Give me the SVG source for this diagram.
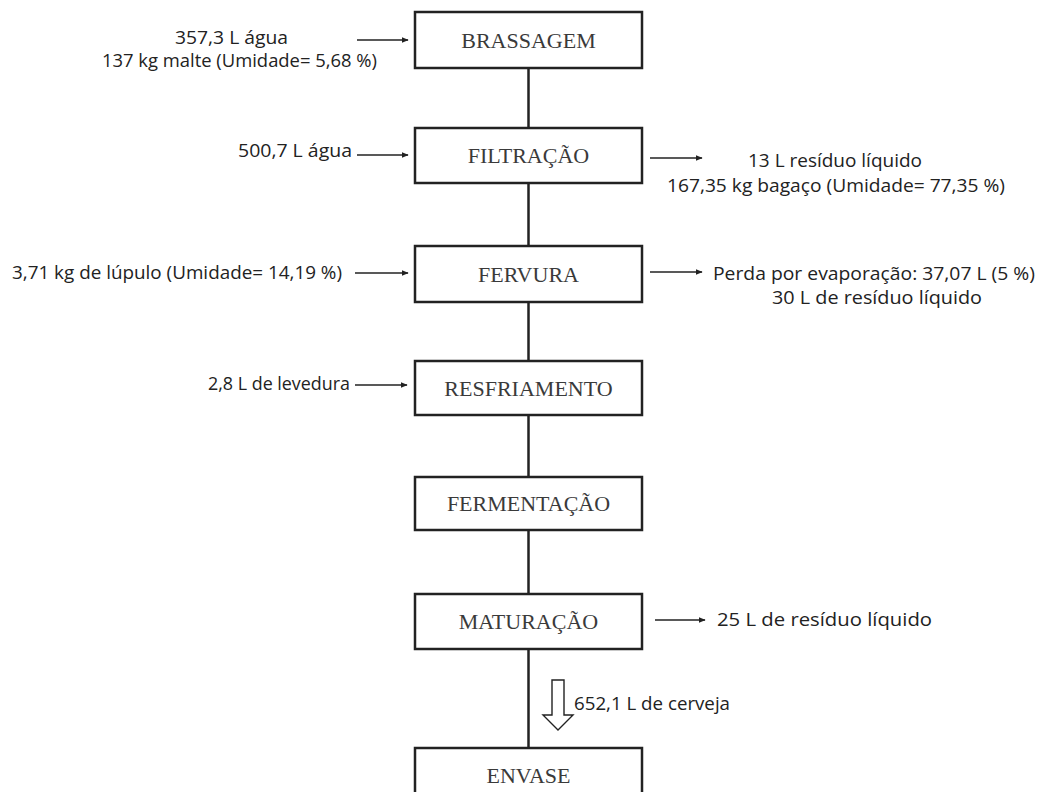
<svg xmlns="http://www.w3.org/2000/svg" width="1043" height="792" viewBox="0 0 1043 792">
<style>
.box{fill:#fff;stroke:#222;stroke-width:2.5}
.lbl{font-family:"Liberation Serif",serif;font-size:22px;fill:#3a3a3a;text-anchor:middle}
.t{font-family:"Open Sans","Noto Sans",sans-serif;font-size:17.5px;fill:#222}
.flow{stroke:#222;stroke-width:2.5;fill:none}
.ar{stroke:#222;stroke-width:1.4;fill:none;marker-end:url(#ah)}
</style>
<defs>
<marker id="ah" viewBox="0 0 10 10" refX="9" refY="5" markerWidth="7" markerHeight="7" markerUnits="userSpaceOnUse" orient="auto">
<path d="M0,1 L10,5 L0,9 Z" fill="#222"/>
</marker>
</defs>
<rect width="1043" height="792" fill="#fff"/>
<g id="connectors">
<line class="flow" x1="528.5" y1="68" x2="528.5" y2="748"/>
<line class="ar" x1="357" y1="40" x2="408" y2="40"/>
<line class="ar" x1="357" y1="155" x2="408" y2="155"/>
<line class="ar" x1="650" y1="158" x2="702" y2="158"/>
<line class="ar" x1="355" y1="273" x2="408" y2="273"/>
<line class="ar" x1="650" y1="272" x2="702" y2="272"/>
<line class="ar" x1="355" y1="385" x2="407" y2="385"/>
<line class="ar" x1="655" y1="620" x2="705" y2="620"/>
<polygon points="552,680 564,680 564,715 573,715 558,730 543,715 552,715" fill="#fff" stroke="#222" stroke-width="1.4"/>
</g>
<g id="brassagem"><rect class="box" x="415" y="12" width="227" height="56"/><text class="lbl" x="528.5" y="47.5">BRASSAGEM</text></g>
<g id="filtracao"><rect class="box" x="415" y="128" width="227" height="55"/><text class="lbl" x="528.5" y="163">FILTRAÇÃO</text></g>
<g id="fervura"><rect class="box" x="415" y="246" width="227" height="56"/><text class="lbl" x="528.5" y="281.5">FERVURA</text></g>
<g id="resfriamento"><rect class="box" x="415" y="361" width="227" height="54"/><text class="lbl" x="528.5" y="395.5">RESFRIAMENTO</text></g>
<g id="fermentacao"><rect class="box" x="415" y="477" width="227" height="53"/><text class="lbl" x="528.5" y="511">FERMENTAÇÃO</text></g>
<g id="maturacao"><rect class="box" x="415" y="594" width="227" height="55"/><text class="lbl" x="528.5" y="629">MATURAÇÃO</text></g>
<g id="envase"><rect class="box" x="415" y="748" width="227" height="56"/><text class="lbl" x="528.5" y="783">ENVASE</text></g>
<g id="labels">
<text class="t" x="175" y="44" textLength="113" lengthAdjust="spacingAndGlyphs">357,3 L água</text>
<text class="t" x="102" y="67" textLength="275" lengthAdjust="spacingAndGlyphs">137 kg malte (Umidade= 5,68 %)</text>
<text class="t" x="238" y="157" textLength="114" lengthAdjust="spacingAndGlyphs">500,7 L água</text>
<text class="t" x="748" y="167" textLength="174" lengthAdjust="spacingAndGlyphs">13 L resíduo líquido</text>
<text class="t" x="667" y="192" textLength="338" lengthAdjust="spacingAndGlyphs">167,35 kg bagaço (Umidade= 77,35 %)</text>
<text class="t" x="12" y="279" textLength="330" lengthAdjust="spacingAndGlyphs">3,71 kg de lúpulo (Umidade= 14,19 %)</text>
<text class="t" x="713" y="280" textLength="322" lengthAdjust="spacingAndGlyphs">Perda por evaporação: 37,07 L (5 %)</text>
<text class="t" x="772" y="304" textLength="210" lengthAdjust="spacingAndGlyphs">30 L de resíduo líquido</text>
<text class="t" x="208" y="390" textLength="142" lengthAdjust="spacingAndGlyphs">2,8 L de levedura</text>
<text class="t" x="717" y="626" textLength="215" lengthAdjust="spacingAndGlyphs">25 L de resíduo líquido</text>
<text class="t" x="574" y="710" textLength="156" lengthAdjust="spacingAndGlyphs">652,1 L de cerveja</text>
</g>
</svg>
